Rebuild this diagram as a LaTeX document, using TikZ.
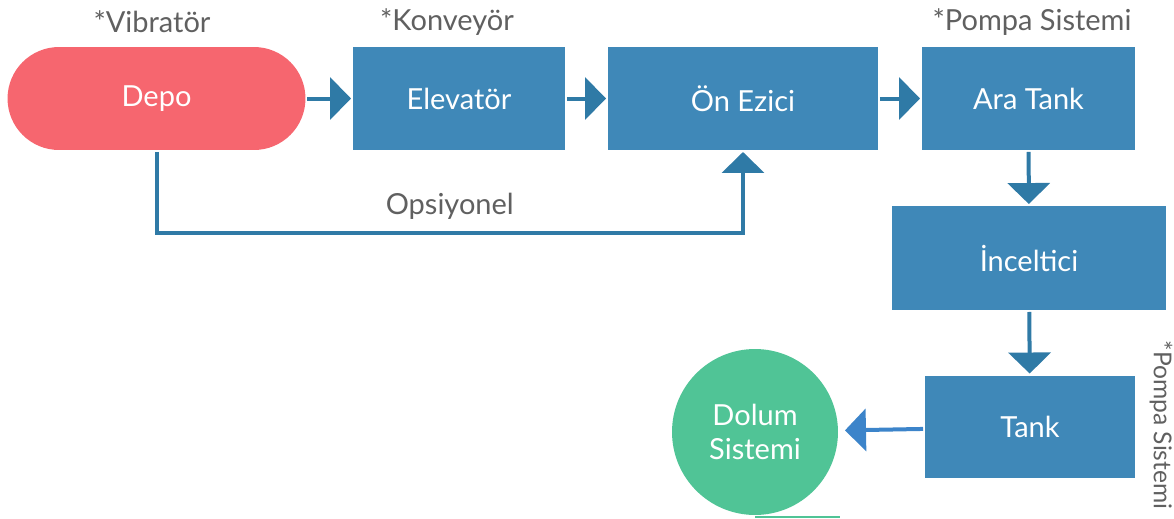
\documentclass[tikz,border=0pt]{standalone}
\usepackage{fontspec}
\setmainfont{Lato}
\usetikzlibrary{arrows.meta}
\definecolor{boxblue}{HTML}{3F88B8}
\definecolor{arrowblue}{HTML}{2F7AA6}
\definecolor{depored}{HTML}{F6666F}
\definecolor{dolumgreen}{HTML}{50C496}
\definecolor{notegray}{HTML}{606060}
\definecolor{tankarrow}{HTML}{3C84CA}

\begin{document}
\begin{tikzpicture}[x=0.02cm,y=-0.02cm,>={Triangle[length=0.42cm,width=0.84cm]},
  line width=0.08cm,
  main node/.style={rectangle,fill=boxblue,text=white,inner sep=0pt,
    minimum height=2.06cm,font=\fontsize{16.5}{19}\selectfont},
  note/.style={text=notegray,font=\fontsize{16.5}{19}\selectfont},
  flow/.style={->,draw=arrowblue}]
  \useasboundingbox (0,0) rectangle (1174,518);

  % main line
  \node[main node,fill=depored,rounded corners=1.03cm,minimum width=5.96cm] (depo) at (156.5,98.5) {Depo};
  \node[main node,minimum width=4.24cm] (elevator) at (459,98.5) {Elevatör};
  \node[main node,minimum width=5.4cm] (onezici) at (743,98.5) {Ön Ezici};
  \node[main node,minimum width=4.26cm] (aratank) at (1028.5,98.5) {Ara Tank};
  \node[main node,minimum width=5.48cm,minimum height=2.08cm] (inceltici) at (1029,258) {İnceltici};
  \node[main node,minimum width=4.2cm] (tank) at (1030,427) {Tank};
  \node[circle,fill=dolumgreen,text=white,inner sep=0pt,minimum size=3.32cm,align=center,
    font=\fontsize{16.5}{19}\selectfont] (dolum) at (755,432) {Dolum\\Sistemi};

  % notes
  \node[note] (vibrator) at (152,22) {*Vibratör};
  \node[note] (konveyor) at (447,22) {*Konveyör};
  \node[note] (pompa1) at (1032,22) {*Pompa Sistemi};
  \node[note,rotate=-90,font=\fontsize{14}{16}\selectfont] (pompa2) at (1161,425) {*Pompa Sistemi};

  \draw[flow] (depo) -- (elevator);
  \draw[flow] (elevator) -- (onezici);
  \draw[flow] (onezici) -- (aratank);
  \draw[flow] (aratank) -- (inceltici);
  \draw[flow] (inceltici) -- (tank);
  \draw[flow,draw=tankarrow,shorten >=0.1cm] (tank) -- (dolum);
  \draw[flow] (depo.south) -- ++(0,81) -| (onezici.south)
    node[note,pos=0.25,above=0.12cm] (opsiyonel) {Opsiyonel};
  \draw[dolumgreen,line width=0.04cm] (dolum.south) -- ++(85,0);

\end{tikzpicture}
\end{document}
